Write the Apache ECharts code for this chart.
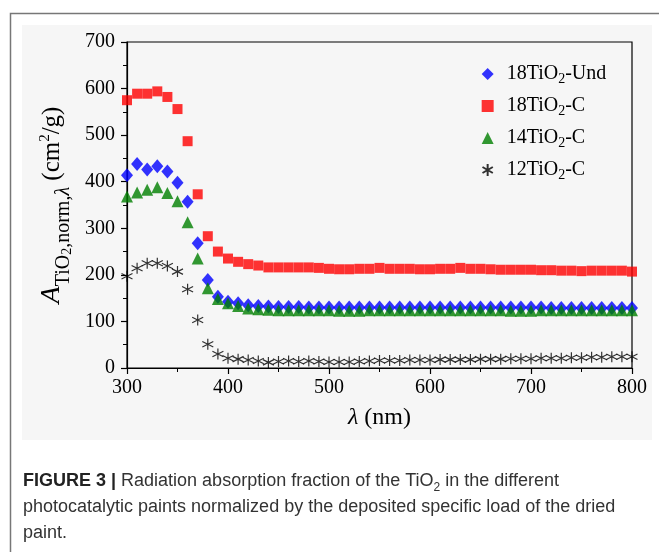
<!DOCTYPE html>
<html>
<head>
<meta charset="utf-8">
<script src="https://cdn.jsdelivr.net/npm/echarts@6/dist/echarts.min.js"></script>
<style>
html, body { margin: 0; padding: 0; background: #fff; }
#main { width: 659px; height: 552px; }
</style>
</head>
<body>
<div id="main"></div>
<script>
// 波长 (nm)
var wavelength = [300, 310, 320, 330, 340, 350, 360, 370, 380, 390,
    400, 410, 420, 430, 440, 450, 460, 470, 480, 490,
    500, 510, 520, 530, 540, 550, 560, 570, 580, 590,
    600, 610, 620, 630, 640, 650, 660, 670, 680, 690,
    700, 710, 720, 730, 740, 750, 760, 770, 780, 790, 800];

// 18TiO2-Und
var und18 = [414, 438, 426, 433, 422, 398, 357, 268, 189, 153,
    142, 139, 135, 133, 132, 131, 131, 131, 130, 130,
    130, 130, 130, 130, 130, 130, 130, 130, 130, 130,
    130, 130, 130, 130, 130, 130, 130, 130, 130, 130,
    130, 130, 129, 129, 129, 129, 129, 129, 129, 129, 129];

// 18TiO2-C
var c18 = [575, 589, 589, 594, 582, 556, 487, 373, 283, 250,
    235, 228, 223, 220, 216, 216, 216, 216, 216, 215,
    213, 212, 212, 213, 213, 215, 213, 213, 213, 212,
    212, 213, 213, 215, 213, 213, 212, 211, 211, 211,
    211, 210, 210, 209, 209, 208, 209, 209, 209, 209, 207];

// 14TiO2-C
var c14 = [368, 377, 383, 388, 376, 358, 313, 235, 171, 148,
    139, 133, 128, 126, 125, 124, 124, 124, 124, 124,
    124, 123, 123, 123, 124, 124, 124, 124, 124, 124,
    124, 124, 124, 124, 124, 124, 124, 124, 123, 123,
    123, 124, 124, 124, 124, 124, 124, 124, 124, 124, 124];

// 12TiO2-C
var c12 = [197, 214, 225, 225, 219, 207, 169, 103, 51, 30,
    21, 19, 17, 15, 12, 14, 15, 14, 15, 14,
    13, 13, 13, 14, 15, 16, 16, 16, 17, 17,
    17, 18, 18, 18, 18, 19, 19, 19, 20, 20,
    20, 21, 21, 21, 22, 22, 23, 23, 24, 24, 24];

var seriesNames = ['18TiO2-Und', '18TiO2-C', '14TiO2-C', '12TiO2-C'];
var seriesColors = ['#0000ff', '#ff0000', '#008000', '#000000'];

var asterisk = 'path://M5,0L5,10M0.7,2.5L9.3,7.5M9.3,2.5L0.7,7.5';
var serif = '"Liberation Serif", "Times New Roman", serif';
var sans = '"Liberation Sans", Arial, sans-serif';

function pairs(ys) {
    var out = [];
    for (var i = 0; i < ys.length; i++) {
        out.push([wavelength[i], ys[i]]);
    }
    return out;
}

// 图例文字: TiO2 的 2 做下标
function legendText(name) {
    var p = name.split('TiO2');
    return '{n|' + p[0] + 'TiO}{s|2}{n|' + p[1] + '}';
}

var chart = echarts.init(document.getElementById('main'));
chart.setOption({
    animation: false,
    backgroundColor: '#ffffff',
    graphic: [
        {
            type: 'rect',
            z: -10,
            shape: {x: 22, y: 25, width: 630, height: 415},
            style: {fill: '#f6f6f6'}
        },
        {
            type: 'polyline',
            z: -5,
            shape: {points: [[10.5, 552], [10.5, 13.5], [659, 13.5]]},
            style: {stroke: '#777', lineWidth: 1.5, fill: null}
        },
        {
            type: 'text',
            left: 23,
            top: 468,
            style: {
                text: '{b|FIGURE 3 |} Radiation absorption fraction of the TiO{s|2} in the different\n' +
                    'photocatalytic paints normalized by the deposited specific load of the dried\n' +
                    'paint.',
                fontFamily: sans,
                fontSize: 18,
                lineHeight: 26,
                fill: '#333',
                rich: {
                    b: {fontFamily: sans, fontSize: 18, fontWeight: 'bold', fill: '#222', lineHeight: 26},
                    s: {fontFamily: sans, fontSize: 12, fill: '#333', lineHeight: 14, verticalAlign: 'bottom'}
                }
            }
        }
    ],
    legend: {
        orient: 'vertical',
        left: 475,
        top: 59,
        itemWidth: 12,
        itemHeight: 12,
        itemGap: 10,
        data: seriesNames,
        formatter: legendText,
        textStyle: {
            padding: [0, 0, 0, 8],
            rich: {
                n: {fontFamily: serif, fontSize: 20, color: '#000', lineHeight: 24},
                s: {fontFamily: serif, fontSize: 14, color: '#000', lineHeight: 12, verticalAlign: 'bottom'}
            }
        }
    },
    grid: {
        left: 127,
        right: 27,
        top: 42,
        bottom: 184,
        show: true,
        borderColor: '#000',
        borderWidth: 1.2,
        backgroundColor: 'transparent'
    },
    xAxis: {
        type: 'value',
        min: 300,
        max: 800,
        interval: 100,
        name: '{i|λ}{n| (nm)}',
        nameLocation: 'middle',
        nameGap: 38,
        nameTextStyle: {
            rich: {
                i: {fontFamily: serif, fontSize: 24, fontStyle: 'italic', color: '#000'},
                n: {fontFamily: serif, fontSize: 24, color: '#000'}
            }
        },
        axisLine: {lineStyle: {color: '#000', width: 1.2}},
        axisTick: {length: 6, lineStyle: {color: '#000', width: 1.2}},
        minorTick: {show: true, splitNumber: 2, length: 4, lineStyle: {color: '#000', width: 1}},
        axisLabel: {fontFamily: serif, fontSize: 20, color: '#000', margin: 10},
        splitLine: {show: false}
    },
    yAxis: {
        type: 'value',
        min: 0,
        max: 700,
        interval: 100,
        name: '{a|A}{s|TiO}{ss|2}{s|,norm,}{si|λ}{n| (cm}{sup|2}{n|/g)}',
        nameLocation: 'middle',
        nameRotate: 90,
        nameGap: 50,
        nameTextStyle: {
            rich: {
                a: {fontFamily: serif, fontSize: 28, fontStyle: 'italic', color: '#000', lineHeight: 44},
                n: {fontFamily: serif, fontSize: 25, color: '#000', lineHeight: 44},
                s: {fontFamily: serif, fontSize: 20, color: '#000', lineHeight: 32, verticalAlign: 'bottom'},
                si: {fontFamily: serif, fontSize: 20, fontStyle: 'italic', color: '#000', lineHeight: 32, verticalAlign: 'bottom'},
                ss: {fontFamily: serif, fontSize: 14, color: '#000', lineHeight: 20, verticalAlign: 'bottom'},
                sup: {fontFamily: serif, fontSize: 15, color: '#000', verticalAlign: 'top', padding: [7, 0, 0, 0]}
            }
        },
        axisLine: {lineStyle: {color: '#000', width: 1.2}},
        axisTick: {length: 6, lineStyle: {color: '#000', width: 1.2}},
        minorTick: {show: true, splitNumber: 2, length: 4, lineStyle: {color: '#000', width: 1}},
        axisLabel: {fontFamily: serif, fontSize: 20, color: '#000', margin: 12},
        splitLine: {show: false}
    },
    series: [
        {
            name: seriesNames[0],
            type: 'scatter',
            symbol: 'diamond',
            symbolSize: [12, 14],
            itemStyle: {color: seriesColors[0]},
            data: pairs(und18)
        },
        {
            name: seriesNames[1],
            type: 'scatter',
            symbol: 'rect',
            symbolSize: 10,
            itemStyle: {color: seriesColors[1]},
            data: pairs(c18)
        },
        {
            name: seriesNames[2],
            type: 'scatter',
            symbol: 'triangle',
            symbolSize: 12,
            itemStyle: {color: seriesColors[2]},
            data: pairs(c14)
        },
        {
            name: seriesNames[3],
            type: 'scatter',
            symbol: asterisk,
            symbolSize: 11,
            itemStyle: {color: 'none', borderColor: seriesColors[3], borderWidth: 1.2},
            data: pairs(c12)
        }
    ]
});
</script>
</body>
</html>
